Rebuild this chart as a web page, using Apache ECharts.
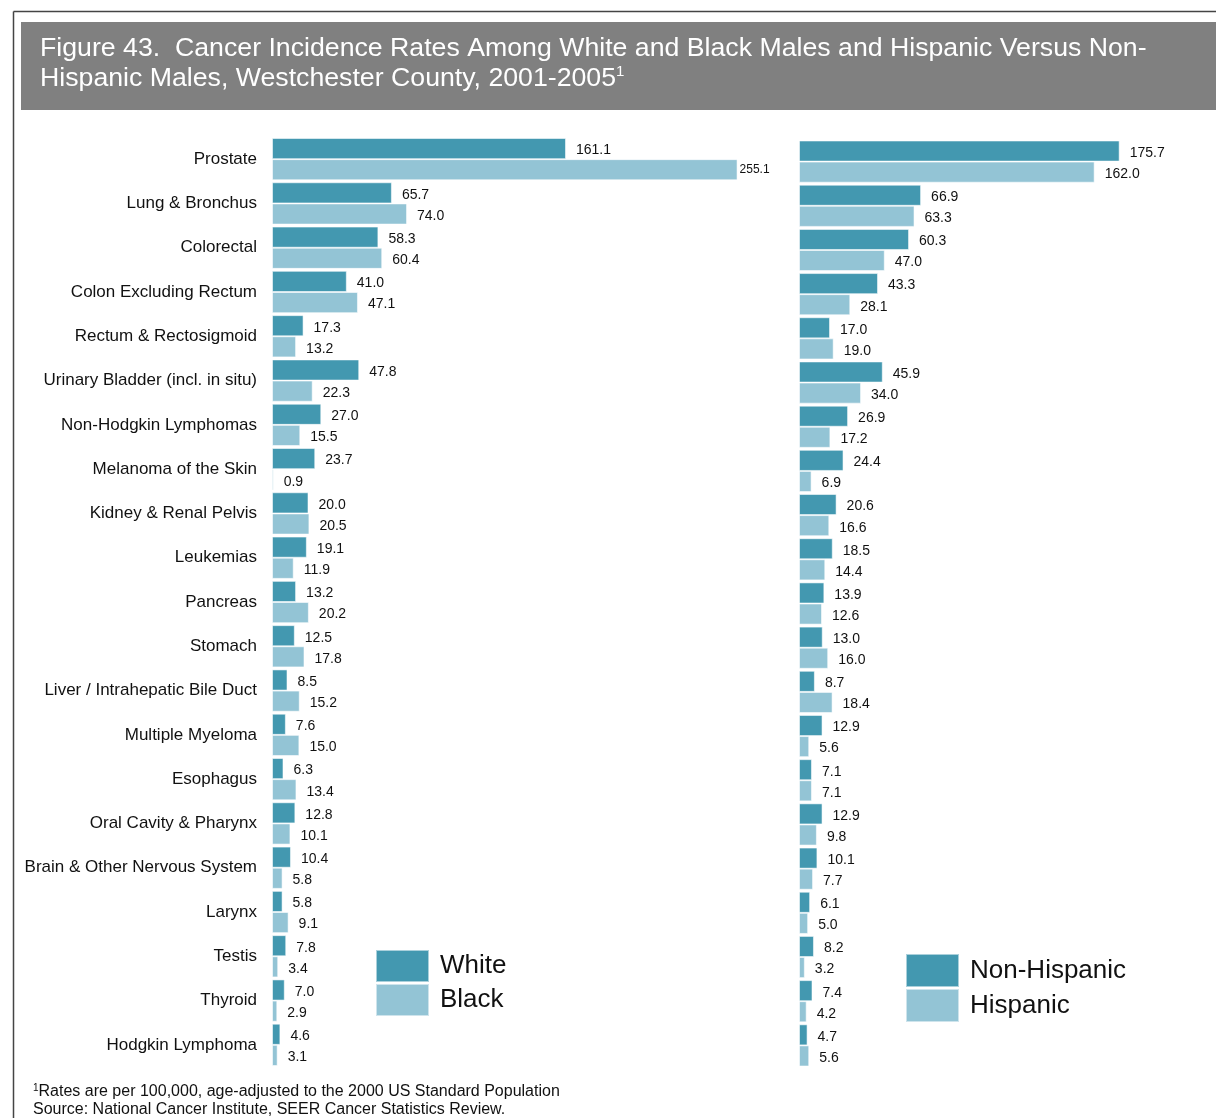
<!DOCTYPE html>
<html>
<head>
<meta charset="utf-8">
<title>Figure 43. Cancer Incidence Rates, Westchester County, 2001-2005</title>
<script src="https://cdn.jsdelivr.net/npm/echarts@6/dist/echarts.min.js"></script>
<style>
  html, body { margin: 0; padding: 0; background: #ffffff; }
  #chart { width: 1216px; height: 1118px; }
</style>
</head>
<body>
<div id="chart"></div>
<script>
// Cancer sites, top to bottom
const categories = [
  'Prostate', 'Lung & Bronchus', 'Colorectal', 'Colon Excluding Rectum',
  'Rectum & Rectosigmoid', 'Urinary Bladder (incl. in situ)', 'Non-Hodgkin Lymphomas',
  'Melanoma of the Skin', 'Kidney & Renal Pelvis', 'Leukemias', 'Pancreas', 'Stomach',
  'Liver / Intrahepatic Bile Duct', 'Multiple Myeloma', 'Esophagus', 'Oral Cavity & Pharynx',
  'Brain & Other Nervous System', 'Larynx', 'Testis', 'Thyroid', 'Hodgkin Lymphoma'
];

// Age-adjusted incidence per 100,000 males
const whiteRates = [161.1, 65.7, 58.3, 41.0, 17.3, 47.8, 27.0, 23.7, 20.0, 19.1, 13.2,
  12.5, 8.5, 7.6, 6.3, 12.8, 10.4, 5.8, 7.8, 7.0, 4.6];
const blackRates = [255.1, 74.0, 60.4, 47.1, 13.2, 22.3, 15.5, 0.9, 20.5, 11.9, 20.2,
  17.8, 15.2, 15.0, 13.4, 10.1, 5.8, 9.1, 3.4, 2.9, 3.1];
const nonHispanicRates = [175.7, 66.9, 60.3, 43.3, 17.0, 45.9, 26.9, 24.4, 20.6, 18.5, 13.9,
  13.0, 8.7, 12.9, 7.1, 12.9, 10.1, 6.1, 8.2, 7.4, 4.7];
const hispanicRates = [162.0, 63.3, 47.0, 28.1, 19.0, 34.0, 17.2, 6.9, 16.6, 14.4, 12.6,
  16.0, 18.4, 5.6, 7.1, 9.8, 7.7, 5.0, 3.2, 4.2, 5.6];

const titleLine1 = 'Figure 43.  Cancer Incidence Rates Among White and Black Males and Hispanic Versus Non-';
const titleLine2 = 'Hispanic Males, Westchester County, 2001-2005';
const footLine1 = 'Rates are per 100,000, age-adjusted to the 2000 US Standard Population';
const footLine2 = 'Source: National Cancer Institute, SEER Cancer Statistics Review.';

const FONT = "'Liberation Sans', Arial, sans-serif";
const DARK = '#4398B0';
const LIGHT = '#93C4D5';
const PX_PER_UNIT = 1.825;
const LEFT_MAX = 280;
const RIGHT_MAX = 228;

const chart = echarts.init(document.getElementById('chart'), null, { renderer: 'canvas' });

const valueLabel = {
  show: true,
  position: 'right',
  distance: 10,
  offset: [0, 2],
  fontFamily: FONT,
  fontSize: 14,
  color: '#111111',
  formatter: p => Number(p.value).toFixed(1)
};

function barSeries(name, data, axisIndex, color) {
  return {
    type: 'bar',
    name: name,
    xAxisIndex: axisIndex,
    yAxisIndex: axisIndex,
    data: data,
    barGap: '0%',
    barCategoryGap: '4.5%',
    itemStyle: { color: color, borderColor: 'rgba(255,255,255,0.55)', borderWidth: 1 },
    label: valueLabel,
    emphasis: { disabled: true },
    animation: false
  };
}

// The long prostate bar carries a compact label placed tight to its end
const blackData = blackRates.map((v, i) => i === 0
  ? { value: v, label: { fontSize: 12, distance: 2, offset: [0, 0] } }
  : v);

const hiddenValueAxis = (max, gridIndex) => ({
  type: 'value', gridIndex: gridIndex, min: 0, max: max,
  show: false, splitLine: { show: false }
});

const option = {
  backgroundColor: '#ffffff',
  textStyle: { fontFamily: FONT },
  title: [
    {
      text: '{t|' + titleLine1 + '}\n{t|' + titleLine2 + '}{sup|1}',
      left: 40, top: 34, padding: 0,
      textStyle: {
        fontWeight: 'normal',
        rich: {
          t: { fontFamily: FONT, fontSize: 26.7, fontWeight: 'normal', color: '#ffffff', lineHeight: 30 },
          sup: { fontFamily: FONT, fontSize: 15, fontWeight: 'normal', color: '#ffffff', lineHeight: 14, verticalAlign: 'top' }
        }
      }
    },
    {
      text: '{sup|1}{f|' + footLine1 + '}\n{f|' + footLine2 + '}',
      left: 33, top: 1083, padding: 0,
      textStyle: {
        fontWeight: 'normal',
        rich: {
          f: { fontFamily: FONT, fontSize: 16, fontWeight: 'normal', color: '#111111', lineHeight: 18 },
          sup: { fontFamily: FONT, fontSize: 10, fontWeight: 'normal', color: '#111111', lineHeight: 10, verticalAlign: 'top' }
        }
      }
    }
  ],
  legend: [
    {
      data: ['White', 'Black'],
      orient: 'vertical', left: 375, top: 949, padding: 0,
      itemGap: 0, itemWidth: 53, itemHeight: 32, icon: 'rect',
      selectedMode: false,
      textStyle: { fontFamily: FONT, fontSize: 26, color: '#111111', lineHeight: 29, padding: [3, 0, 0, 6] }
    },
    {
      data: ['Non-Hispanic', 'Hispanic'],
      orient: 'vertical', left: 905, top: 953, padding: 0,
      itemGap: 0, itemWidth: 53, itemHeight: 33, icon: 'rect',
      selectedMode: false,
      textStyle: { fontFamily: FONT, fontSize: 26, color: '#111111', lineHeight: 29, padding: [4, 0, 0, 6] }
    }
  ],
  grid: [
    { left: 272, top: 137, width: LEFT_MAX * PX_PER_UNIT, height: 930, containLabel: false },
    { left: 799, top: 139.5, width: RIGHT_MAX * PX_PER_UNIT, height: 928, containLabel: false }
  ],
  xAxis: [hiddenValueAxis(LEFT_MAX, 0), hiddenValueAxis(RIGHT_MAX, 1)],
  yAxis: [
    {
      type: 'category', gridIndex: 0, data: categories, inverse: true,
      axisLine: { show: false }, axisTick: { show: false }, splitLine: { show: false },
      axisLabel: { fontFamily: FONT, fontSize: 17, color: '#111111', margin: 15, interval: 0 }
    },
    {
      type: 'category', gridIndex: 1, data: categories, inverse: true,
      axisLine: { show: false }, axisTick: { show: false }, splitLine: { show: false },
      axisLabel: { show: false }
    }
  ],
  graphic: [
    // page frame
    { type: 'line', shape: { x1: 13.5, y1: 11.5, x2: 1216, y2: 11.5 }, style: { stroke: '#444444', lineWidth: 1.5 }, silent: true },
    { type: 'line', shape: { x1: 13.5, y1: 11.5, x2: 13.5, y2: 1118 }, style: { stroke: '#444444', lineWidth: 1.5 }, silent: true },
    // title banner
    { type: 'rect', shape: { x: 21, y: 22, width: 1195, height: 88 }, style: { fill: '#808080' }, z: -1, silent: true }
  ],
  series: [
    barSeries('White', whiteRates, 0, DARK),
    barSeries('Black', blackData, 0, LIGHT),
    barSeries('Non-Hispanic', nonHispanicRates, 1, DARK),
    barSeries('Hispanic', hispanicRates, 1, LIGHT)
  ]
};

chart.setOption(option);
</script>
</body>
</html>
